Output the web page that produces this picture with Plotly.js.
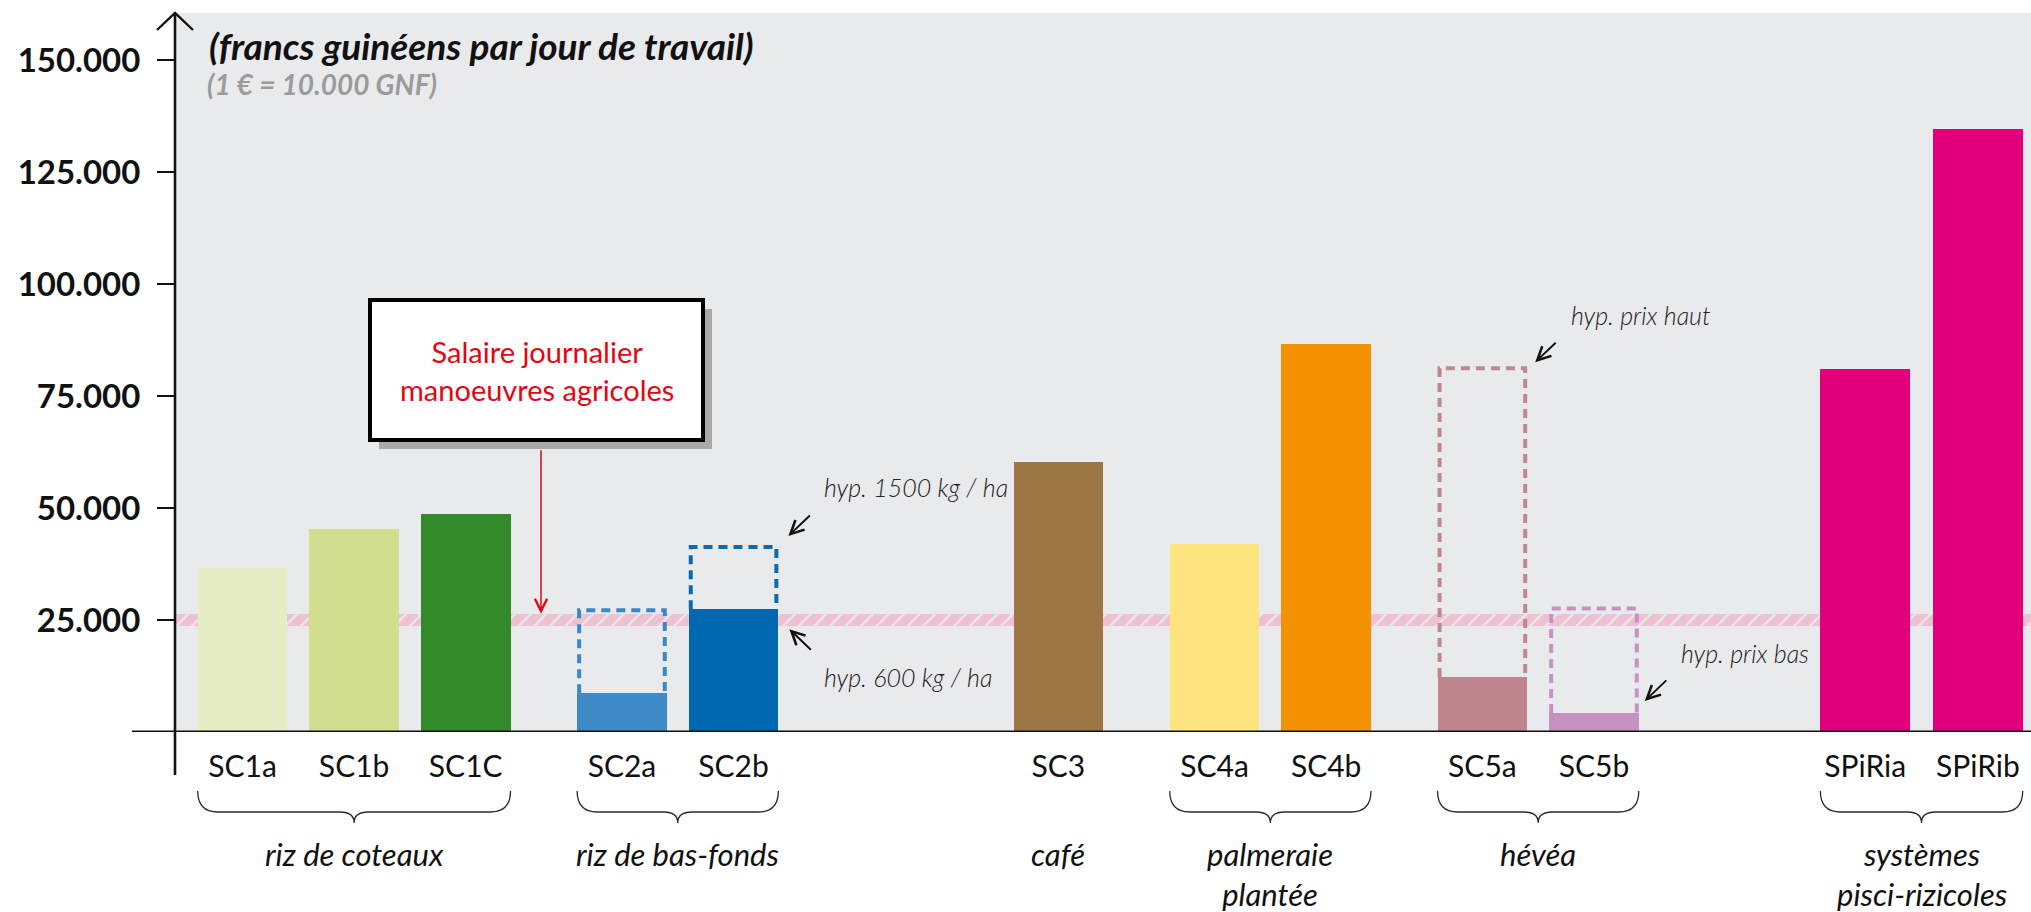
<!DOCTYPE html>
<html>
<head>
<meta charset="utf-8">
<script src="https://cdn.plot.ly/plotly-3.0.1.min.js"></script>
<style>
  html, body { margin: 0; padding: 0; background: #ffffff; }
  #chart { width: 2031px; height: 912px; }
</style>
</head>
<body>
<div id="chart"></div>
<script>
// ---------------- DATA ----------------
const categories = ['SC1a', 'SC1b', 'SC1C', 'SC2a', 'SC2b', 'SC3', 'SC4a', 'SC4b', 'SC5a', 'SC5b', 'SPiRia', 'SPiRib'];
const values     = [36700, 45400, 48600, 8650, 27400, 60300, 41900, 86700, 12300, 4250, 81000, 134600];
// alternative (high) hypothesis, drawn as dashed outlines
const highHyp    = [null, null, null, 27150, 41300, null, null, null, 81200, 27550, null, null];
const groupNames = ['riz de coteaux', 'riz de bas-fonds', 'café', 'palmeraie<br>plantée', 'hévéa', 'systèmes<br>pisci-rizicoles'];
const groupMembers = [[0, 1, 2], [3, 4], [5], [6, 7], [8, 9], [10, 11]];
const wageLow = 23600, wageHigh = 26400;   // salaire journalier manoeuvres agricoles
const yTickVals = [25000, 50000, 75000, 100000, 125000, 150000];
const yTickText = ['25.000', '50.000', '75.000', '100.000', '125.000', '150.000'];
const hypLabels = ['hyp. 1500 kg / ha', 'hyp. 600 kg / ha', 'hyp. prix haut', 'hyp. prix bas'];

// ---------------- LAYOUT CONSTANTS ----------------
const W = 2031, H = 912;
const M = { l: 175, r: 0, t: 13, b: 180 };
const PW = W - M.l - M.r, PH = H - M.t - M.b;
// slot positions along the x axis (grouped, with gaps between groups)
const slotPos = [0, 1, 2, 3.4, 4.4, 7.31, 8.71, 9.71, 11.11, 12.11, 14.54, 15.55];
const xRange = [-0.605, 16.026];
const yRange = [0, 160500];
const barW = 0.803;
const half = barW / 2;

const barColors = ['#e6edc4', '#d1de8f', '#338a29', '#3d8ac6', '#0068b0', '#9e7643', '#fde47f', '#f39200', '#bf868e', '#c591c1', '#e2007a', '#e2007a'];
const dashColors = [null, null, null, '#3b88c6', '#0b6ab2', null, null, null, '#c1878f', '#c792c3', null, null];

const px2pX = px => (px - M.l) / PW;
const px2pY = py => (M.t + PH - py) / PH;
const unitPx = PW / (xRange[1] - xRange[0]);

const FONT = 'Lato, "Open Sans", sans-serif';

// ---------------- TRACES ----------------
const traces = [];
// hatched wage band
traces.push({
  type: 'bar',
  x: [(xRange[0] + xRange[1]) / 2],
  y: [wageHigh - wageLow],
  base: [wageLow],
  width: [xRange[1] - xRange[0]],
  marker: {
    color: 'rgba(0,0,0,0)',
    line: { width: 0 },
    pattern: { shape: '/', fgcolor: '#f397b8', bgcolor: 'rgba(0,0,0,0)', size: 11, solidity: 0.8, fillmode: 'overlay' }
  },
  hoverinfo: 'skip',
  showlegend: false
});
// main bars
traces.push({
  type: 'bar',
  x: slotPos,
  y: values,
  width: slotPos.map(() => barW),
  marker: { color: barColors, line: { width: 0 } },
  text: categories,
  hovertemplate: '%{text}: %{y:,d}<extra></extra>',
  textposition: 'none',
  showlegend: false
});

// ---------------- SHAPES ----------------
const shapes = [];
// dashed outlines of the high hypothesis
highHyp.forEach((v, i) => {
  if (v === null) return;
  const inset = 2 / unitPx;
  const xl = slotPos[i] - half + inset, xr = slotPos[i] + half - inset;
  const lo = values[i];
  shapes.push({
    type: 'path', xref: 'x', yref: 'y', layer: 'above',
    path: `M${xl},${lo} L${xl},${v} L${xr},${v} L${xr},${lo}`,
    line: { color: dashColors[i], width: 4, dash: '9px,6px' }
  });
});
// curly braces under groups
const yEnd = px2pY(791), yMid = px2pY(812), yCusp = px2pY(823);
groupMembers.forEach(g => {
  if (g.length < 2) return;
  const xl = slotPos[g[0]] - half, xr = slotPos[g[g.length - 1]] + half;
  const xc = (xl + xr) / 2;
  const r = 20 / unitPx, r2 = 14 / unitPx;
  shapes.push({
    type: 'path', xref: 'x', yref: 'paper', layer: 'above',
    path: `M${xl},${yEnd} Q${xl},${yMid} ${xl + r},${yMid} L${xc - r2},${yMid} Q${xc},${yMid} ${xc},${yCusp} ` +
          `Q${xc},${yMid} ${xc + r2},${yMid} L${xr - r},${yMid} Q${xr},${yMid} ${xr},${yEnd}`,
    line: { color: '#2a2a2a', width: 1.3 }
  });
});
// x baseline (extends left of the y axis)
shapes.push({ type: 'line', xref: 'paper', yref: 'y', x0: px2pX(132), x1: 1, y0: 0, y1: 0, line: { color: '#111', width: 2.8 }, layer: 'above' });
// y axis line (extends below the baseline) + arrowhead
shapes.push({ type: 'line', xref: 'paper', yref: 'paper', x0: 0, x1: 0, y0: px2pY(775), y1: px2pY(13), line: { color: '#111', width: 2.6 }, layer: 'above' });
shapes.push({
  type: 'path', xref: 'paper', yref: 'paper', xsizemode: 'pixel', ysizemode: 'pixel', xanchor: 0, yanchor: px2pY(13),
  path: 'M-18,-17 L0,0 L18,-17', line: { color: '#111', width: 2.4 }, layer: 'above'
});
// "Salaire journalier" box : shadow + white box
const box = { x0: 370, x1: 703, y0: 300, y1: 440 };
shapes.push({ type: 'rect', xref: 'paper', yref: 'paper', x0: px2pX(box.x0 + 9), x1: px2pX(box.x1 + 9), y0: px2pY(box.y0 + 9), y1: px2pY(box.y1 + 9),
  fillcolor: '#a9a9a9', line: { width: 0 }, layer: 'above' });
shapes.push({ type: 'rect', xref: 'paper', yref: 'paper', x0: px2pX(box.x0), x1: px2pX(box.x1), y0: px2pY(box.y0), y1: px2pY(box.y1),
  fillcolor: '#ffffff', line: { color: '#000', width: 4 }, layer: 'above' });

// ---------------- ANNOTATIONS ----------------
const annotations = [];
// title + subtitle
annotations.push({ xref: 'paper', yref: 'paper', x: px2pX(207), y: px2pY(45), xanchor: 'left', yanchor: 'middle', showarrow: false,
  text: '<b><i>(francs guinéens par jour de travail)</i></b>', font: { family: FONT, size: 37, color: '#111' } });
annotations.push({ xref: 'paper', yref: 'paper', x: px2pX(205), y: px2pY(84), xanchor: 'left', yanchor: 'middle', showarrow: false,
  text: '<b><i>(1 € = 10.000 GNF)</i></b>', font: { family: FONT, size: 28, color: '#9b9b9b' } });
// box text + red arrow
annotations.push({ xref: 'paper', yref: 'paper', x: px2pX((box.x0 + box.x1) / 2), y: px2pY((box.y0 + box.y1) / 2),
  xanchor: 'center', yanchor: 'middle', showarrow: false,
  text: 'Salaire journalier<br>manoeuvres agricoles', font: { family: FONT, size: 29, color: '#e30613' }, align: 'center' });
annotations.push({ xref: 'paper', yref: 'y', x: px2pX(541), y: wageHigh, text: '', showarrow: true,
  ax: 0, ay: -(614 - 449), arrowhead: 5, arrowsize: 1.6, arrowwidth: 1.5, arrowcolor: '#e30613' });
// group labels
groupMembers.forEach((g, k) => {
  const xc = (slotPos[g[0]] + slotPos[g[g.length - 1]]) / 2;
  annotations.push({ xref: 'x', yref: 'paper', x: xc, y: px2pY(833), xanchor: 'center', yanchor: 'top', showarrow: false,
    text: '<i>' + groupNames[k] + '</i>', font: { family: FONT, size: 31, color: '#111' } });
});
// hypothesis labels + black arrows
const hypFont = { family: FONT, size: 25, color: '#222', weight: 300 };
const i2b = 4, i5a = 8, i5b = 9;
// SC2b high
annotations.push({ xref: 'x', yref: 'y', x: slotPos[i2b] + half, y: highHyp[i2b], xanchor: 'left', yanchor: 'middle', showarrow: false,
  xshift: 44, yshift: 60, text: '<i>' + hypLabels[0] + '</i>', font: hypFont });
annotations.push({ xref: 'x', yref: 'y', x: slotPos[i2b] + half, y: highHyp[i2b], text: '', showarrow: true,
  xshift: 10, yshift: 11, ax: 23, ay: -22, arrowhead: 5, arrowsize: 1.3, arrowwidth: 2, arrowcolor: '#111' });
// SC2b low
annotations.push({ xref: 'x', yref: 'y', x: slotPos[i2b] + half, y: values[i2b], xanchor: 'left', yanchor: 'middle', showarrow: false,
  xshift: 44, yshift: -68, text: '<i>' + hypLabels[1] + '</i>', font: hypFont });
annotations.push({ xref: 'x', yref: 'y', x: slotPos[i2b] + half, y: values[i2b], text: '', showarrow: true,
  xshift: 11, yshift: -20, ax: 23, ay: 22, arrowhead: 5, arrowsize: 1.3, arrowwidth: 2, arrowcolor: '#111' });
// SC5a high
annotations.push({ xref: 'x', yref: 'y', x: slotPos[i5a] + half, y: highHyp[i5a], xanchor: 'left', yanchor: 'middle', showarrow: false,
  xshift: 42, yshift: 53, text: '<i>' + hypLabels[2] + '</i>', font: hypFont });
annotations.push({ xref: 'x', yref: 'y', x: slotPos[i5a] + half, y: highHyp[i5a], text: '', showarrow: true,
  xshift: 8, yshift: 6, ax: 22, ay: -21, arrowhead: 5, arrowsize: 1.3, arrowwidth: 2, arrowcolor: '#111' });
// SC5b low
annotations.push({ xref: 'x', yref: 'y', x: slotPos[i5b] + half, y: values[i5b], xanchor: 'left', yanchor: 'middle', showarrow: false,
  xshift: 40, yshift: 60, text: '<i>' + hypLabels[3] + '</i>', font: hypFont });
annotations.push({ xref: 'x', yref: 'y', x: slotPos[i5b] + half, y: values[i5b], text: '', showarrow: true,
  xshift: 6, yshift: 12, ax: 23, ay: -22, arrowhead: 5, arrowsize: 1.3, arrowwidth: 2, arrowcolor: '#111' });

const layout = {
  width: W, height: H,
  margin: M,
  paper_bgcolor: '#ffffff',
  plot_bgcolor: '#e9eaec',
  barmode: 'overlay',
  bargap: 0,
  showlegend: false,
  separators: ',.',
  xaxis: {
    range: xRange, showgrid: false, zeroline: false, showline: false, automargin: false,
    tickmode: 'array', tickvals: slotPos, ticktext: categories, ticks: '',
    ticklabelstandoff: 14,
    tickfont: { family: FONT, size: 30, color: '#111' }
  },
  yaxis: {
    range: yRange, showgrid: false, zeroline: false, showline: false, automargin: false,
    tickmode: 'array', tickvals: yTickVals, ticktext: yTickText,
    ticks: 'outside', ticklen: 17, tickwidth: 2.4, tickcolor: '#111',
    ticklabelstandoff: 10,
    tickfont: { family: FONT, size: 33, color: '#111', weight: 'bold' }
  },
  shapes: shapes,
  annotations: annotations
};

Plotly.newPlot('chart', traces, layout, { displayModeBar: false, staticPlot: true });
</script>
</body>
</html>
